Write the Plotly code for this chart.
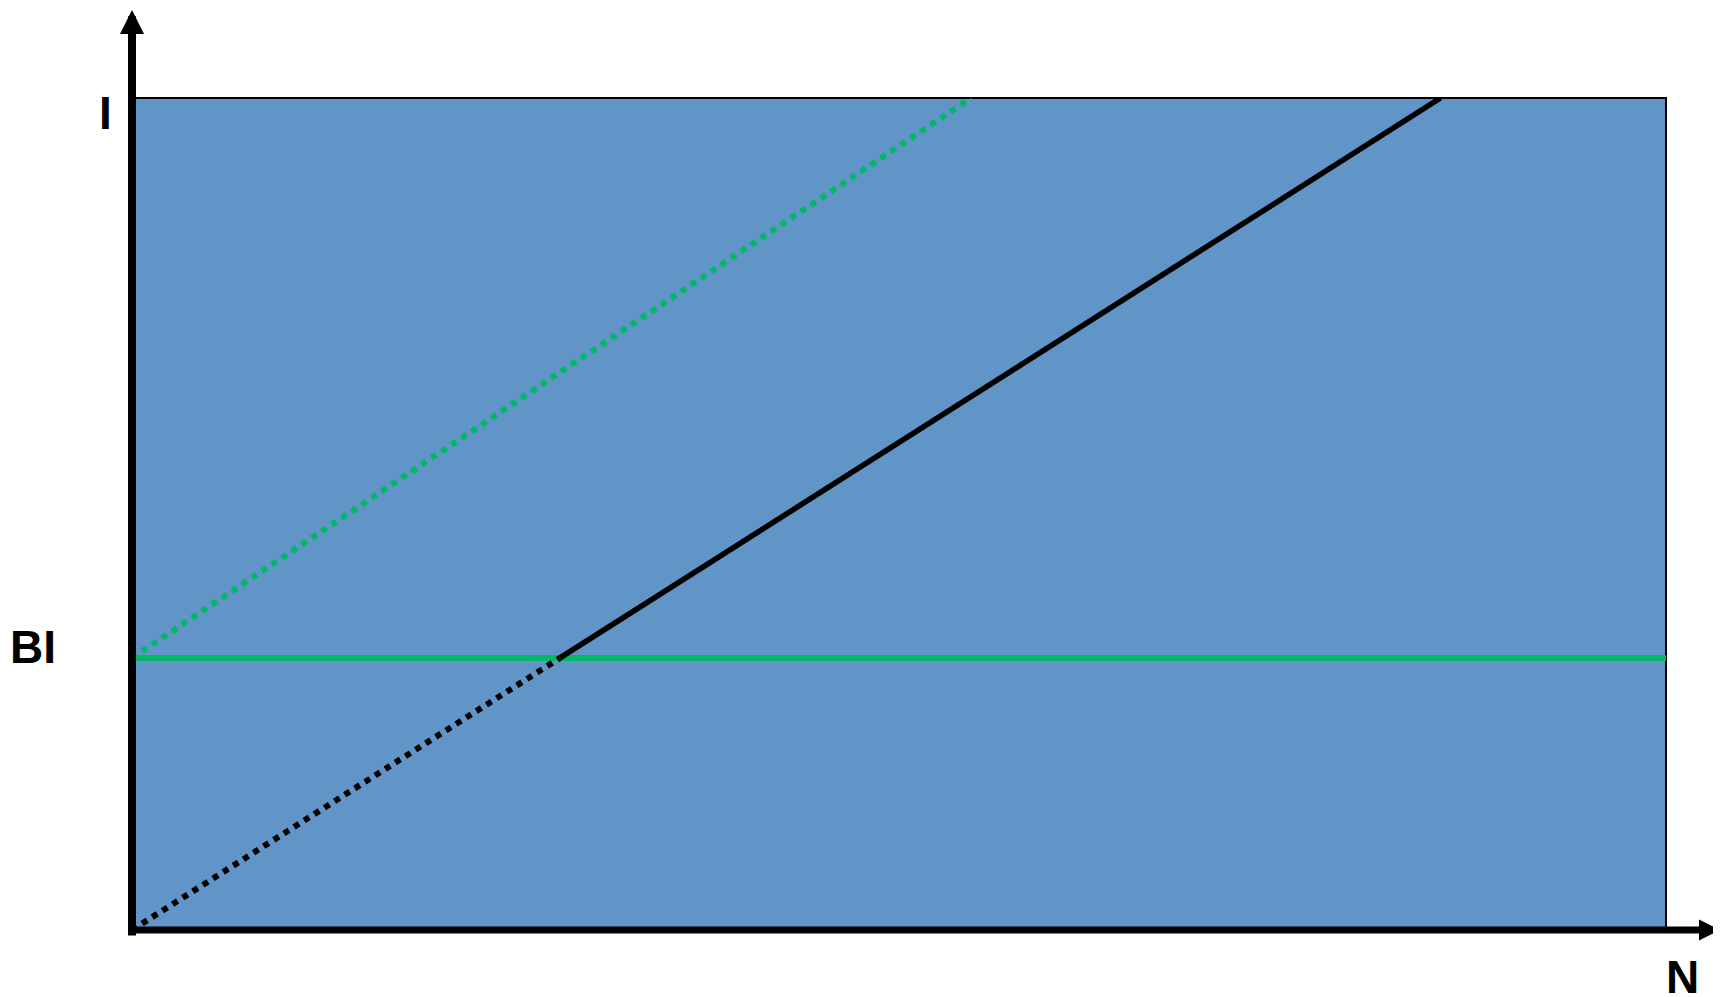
import plotly.graph_objects as go

# the page body has an 8px margin, so the figure sits at (8, 8) in the window
OFF = 8
W, H = 1721 - OFF, 997 - OFF
# blue area in window pixels
L, R, T, B = 132, 1666, 98, 930

# data, in axis units (both axes 0..100)
n_max = 100
i_max = 100
bi_level = 32.7

n_bi = [0, n_max]
i_bi = [bi_level, bi_level]

n_green_dot = [0, 54.7]
i_green_dot = [bi_level, i_max]

n_black_dot = [0, 27.9]
i_black_dot = [0, bi_level]

n_black = [27.9, 85.3]
i_black = [bi_level, i_max]

blue = "#6195C8"
green = "#00B866"


def px(x):
    return (x - L) / (R - L)


def py(y):
    return (B - y) / (B - T)


fig = go.Figure()

fig.add_trace(go.Scatter(x=n_bi, y=i_bi, mode="lines",
                         line=dict(color=green, width=6)))
fig.add_trace(go.Scatter(x=n_green_dot, y=i_green_dot, mode="lines",
                         line=dict(color=green, width=6, dash="6px,6px")))
fig.add_trace(go.Scatter(x=n_black_dot, y=i_black_dot, mode="lines",
                         line=dict(color="black", width=6, dash="6px,6px")))
fig.add_trace(go.Scatter(x=n_black, y=i_black, mode="lines",
                         line=dict(color="black", width=5.5)))

# thin frame round the blue area
fig.add_shape(type="rect", xref="paper", yref="paper", x0=0, y0=0, x1=1, y1=1,
              line=dict(color="black", width=2), layer="below")

# axes with arrow heads
fig.add_annotation(xref="paper", yref="paper", x=0, y=py(10), ax=0, ay=937 - 10,
                   text="", showarrow=True, arrowhead=2, arrowsize=0.6,
                   arrowwidth=8, arrowcolor="black", standoff=0)
fig.add_annotation(xref="paper", yref="paper", x=px(1728), y=0, ax=-(1728 - 128), ay=0,
                   text="", showarrow=True, arrowhead=2, arrowsize=0.6,
                   arrowwidth=7, arrowcolor="black", standoff=0)

lab_font = dict(family="Liberation Sans, Arial", size=46, color="black", weight="bold")
fig.add_annotation(xref="paper", yref="y", x=px(105), y=i_max, yshift=-15,
                   xanchor="center", yanchor="middle",
                   text="I", showarrow=False, font=lab_font)
fig.add_annotation(xref="paper", yref="y", x=px(33), y=bi_level, yshift=11,
                   xanchor="center", yanchor="middle",
                   text="BI", showarrow=False, font=lab_font)
fig.add_annotation(xref="x", yref="paper", x=n_max, xshift=16, y=py(977),
                   xanchor="center", yanchor="middle",
                   text="N", showarrow=False, font=lab_font)

fig.update_xaxes(range=[0, n_max], visible=False, fixedrange=True)
fig.update_yaxes(range=[0, i_max], visible=False, fixedrange=True)
fig.update_layout(
    width=W, height=H,
    margin=dict(l=L - OFF, r=W + OFF - R, t=T - OFF, b=H + OFF - B, pad=0),
    plot_bgcolor=blue, paper_bgcolor="white",
    showlegend=False,
)

fig.write_html("out.html", config={"displayModeBar": False})
